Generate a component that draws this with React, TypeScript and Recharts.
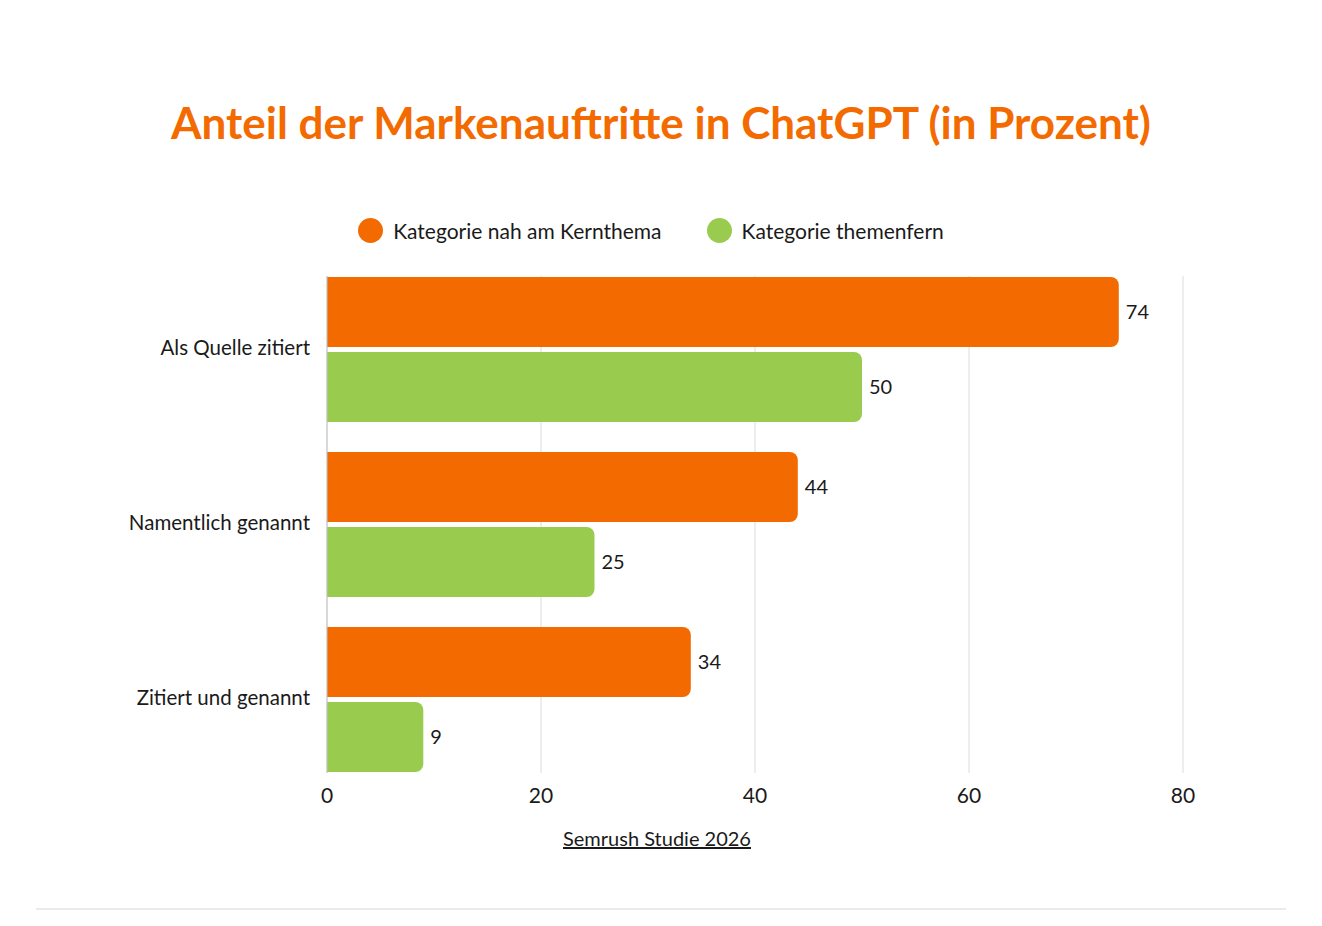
import React from "react";
import { BarChart, Bar, XAxis, YAxis, CartesianGrid, LabelList, Legend } from "recharts";

const categories = ["Als Quelle zitiert", "Namentlich genannt", "Zitiert und genannt"];
const kernthema = [74, 44, 34];
const themenfern = [50, 25, 9];
const xTicks = [0, 20, 40, 60, 80];
const seriesNames = ["Kategorie nah am Kernthema", "Kategorie themenfern"];

const ORANGE = "#F36B00";
const GREEN = "#99CB4F";
const FONT = "Lato, 'Open Sans', sans-serif";
const TEXT = "#1a1a1a";

const data = categories.map((c, i) => ({ name: c, a: kernthema[i], b: themenfern[i] }));

const XTick = (props: any) => {
  const { x, y, payload } = props;
  return (
    <text x={x} y={y} dy={22} textAnchor="middle" fontFamily={FONT} fontSize={21} fill={TEXT}>
      {payload.value}
    </text>
  );
};

const YTick = (props: any) => {
  const { x, y, payload } = props;
  return (
    <text x={x} y={y} dy={5} textAnchor="end" fontFamily={FONT} fontSize={20.5} fill={TEXT}>
      {payload.value}
    </text>
  );
};

const LegendContent = () => (
  <div style={{ display: "flex", justifyContent: "center", gap: 45, fontFamily: FONT, fontSize: 21, color: TEXT }}>
    {seriesNames.map((n, i) => (
      <div key={n} style={{ display: "flex", alignItems: "center", gap: 10 }}>
        <span style={{ width: 25, height: 25, borderRadius: "50%", background: i === 0 ? ORANGE : GREEN, display: "inline-block" }} />
        <span>{n}</span>
      </div>
    ))}
  </div>
);

export default function App() {
  return (
    <div style={{ position: "absolute", left: 0, top: 0, width: 1322, height: 926, background: "#fff", overflow: "hidden" }}>
      <div
        style={{
          position: "absolute",
          top: 92,
          left: 0,
          width: 1322,
          textAlign: "center",
          fontFamily: FONT,
          fontWeight: 700,
          fontSize: 44,
          color: ORANGE,
          lineHeight: "60px",
        }}
      >
        Anteil der Markenauftritte in ChatGPT (in Prozent)
      </div>
      <div style={{ position: "absolute", left: 0, top: 0 }}>
        <BarChart
          width={1322}
          height={926}
          layout="vertical"
          data={data}
          margin={{ top: 276, right: 139, bottom: 113, left: 0 }}
          barSize={70}
          barGap={5}
        >
          <CartesianGrid horizontal={false} vertical={true} stroke="#dcdcdc" />
          <XAxis
            type="number"
            domain={[0, 80]}
            ticks={xTicks}
            axisLine={false}
            tickLine={false}
            height={40}
            tick={<XTick />}
          />
          <YAxis
            type="category"
            dataKey="name"
            width={327}
            axisLine={{ stroke: "#c4c4c4" }}
            tickLine={false}
            padding={{ top: -14, bottom: -14 }}
            tick={<YTick />}
            tickMargin={11}
          />
          <Legend
            layout="horizontal"
            verticalAlign="middle"
            align="center"
            wrapperStyle={{ top: 218, left: -10, width: 1322 }}
            content={<LegendContent />}
          />
          <Bar dataKey="a" fill={ORANGE} radius={[0, 8, 8, 0]} isAnimationActive={false}>
            <LabelList dataKey="a" position="right" offset={7} fontFamily={FONT} fontSize={20} fill={TEXT} />
          </Bar>
          <Bar dataKey="b" fill={GREEN} radius={[0, 8, 8, 0]} isAnimationActive={false}>
            <LabelList dataKey="b" position="right" offset={7} fontFamily={FONT} fontSize={20} fill={TEXT} />
          </Bar>
        </BarChart>
      </div>
      <div
        style={{
          position: "absolute",
          top: 826,
          left: 0,
          width: 1314,
          textAlign: "center",
          fontFamily: FONT,
          fontSize: 20,
          color: TEXT,
          textDecoration: "underline",
        }}
      >
        Semrush Studie 2026
      </div>
      <div style={{ position: "absolute", top: 908, left: 36, width: 1250, height: 2, background: "#e8ecef" }} />
    </div>
  );
}
